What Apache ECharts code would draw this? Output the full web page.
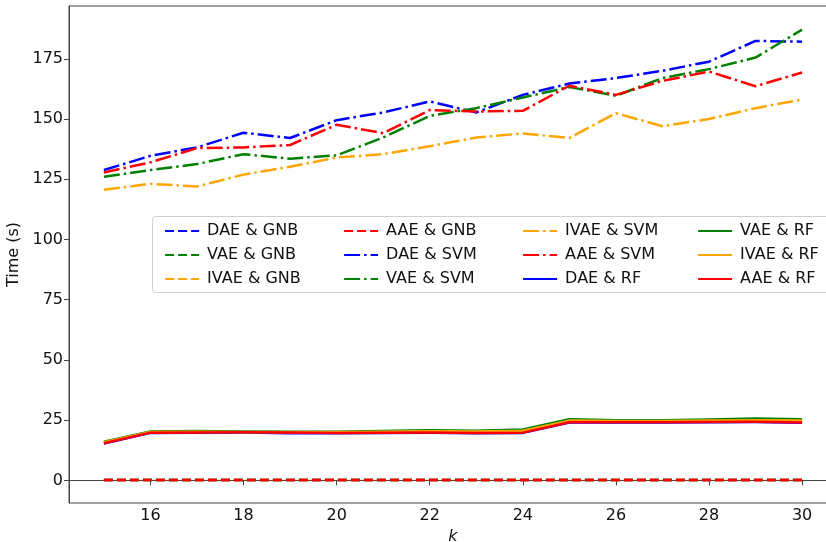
<!DOCTYPE html>
<html>
<head>
<meta charset="utf-8">
<script src="https://cdn.jsdelivr.net/npm/echarts@6/dist/echarts.min.js"></script>
<style>
html,body{margin:0;padding:0;background:#fff;}
#chart{width:826px;height:542px;}
</style>
</head>
<body>
<div id="chart"></div>
<script>
// ---- data ----
var kValues = [15,16,17,18,19,20,21,22,23,24,25,26,27,28,29,30];
var xTicks = [16,18,20,22,24,26,28,30];
var yTicks = [0,25,50,75,100,125,150,175];

var daeGnb  = [0.1,0.1,0.1,0.1,0.1,0.1,0.1,0.1,0.1,0.1,0.1,0.1,0.1,0.1,0.1,0.1];
var vaeGnb  = [0.1,0.1,0.1,0.1,0.1,0.1,0.1,0.1,0.1,0.1,0.1,0.1,0.1,0.1,0.1,0.1];
var ivaeGnb = [0.1,0.1,0.1,0.1,0.1,0.1,0.1,0.1,0.1,0.1,0.1,0.1,0.1,0.1,0.1,0.1];
var aaeGnb  = [0.1,0.1,0.1,0.1,0.1,0.1,0.1,0.1,0.1,0.1,0.1,0.1,0.1,0.1,0.1,0.1];

var daeSvm  = [128.8,134.7,138.2,144.3,142.1,149.5,152.7,157.3,152.7,160.0,164.7,167.0,170.0,173.8,182.4,182.1];
var vaeSvm  = [126.0,128.8,131.3,135.4,133.5,134.9,142.3,151.3,154.5,158.9,163.3,159.6,167.0,170.7,175.5,187.1];
var ivaeSvm = [120.6,123.1,122.0,126.9,130.2,134.0,135.4,138.7,142.3,144.0,142.1,152.4,147.0,150.0,154.5,158.1];
var aaeSvm  = [127.8,132.0,137.9,138.2,139.2,147.6,144.1,153.7,153.1,153.4,163.8,160.0,165.8,169.7,163.6,169.3];

var daeRf   = [15.3,19.7,19.8,19.9,19.6,19.6,19.7,19.8,19.6,19.7,24.0,24.0,24.0,24.1,24.2,23.9];
var vaeRf   = [16.0,20.3,20.5,20.3,20.2,20.2,20.5,20.8,20.6,21.1,25.4,25.0,25.0,25.3,25.7,25.4];
var ivaeRf  = [15.8,20.1,20.2,20.1,20.0,20.0,20.2,20.4,20.3,20.6,24.8,24.6,24.6,24.8,25.0,24.8];
var aaeRf   = [15.4,19.8,19.9,20.0,19.9,19.7,19.8,19.9,19.7,19.8,24.1,24.1,24.1,24.2,24.3,24.0];

var BLUE = '#0000ff', GREEN = '#008000', ORANGE = '#ffa500', RED = '#ff0000';
var LW = 2.5;
var DASH = [9, 4];
var DASHDOT = [16, 4, 2.5, 4];
var FONT = 'DejaVu Sans';

function pairs(vals) {
  return kValues.map(function (k, i) { return [k, vals[i]]; });
}
function mk(name, vals, color, type) {
  return {
    name: name, type: 'line', data: pairs(vals), symbol: 'none',
    animation: false,
    lineStyle: { color: color, width: LW, type: type, cap: 'butt', join: 'round' },
    itemStyle: { color: color }
  };
}

var series = [
  mk('DAE & GNB', daeGnb, BLUE, DASH),
  mk('VAE & GNB', vaeGnb, GREEN, DASH),
  mk('IVAE & GNB', ivaeGnb, ORANGE, DASH),
  mk('AAE & GNB', aaeGnb, RED, DASH),
  mk('DAE & SVM', daeSvm, BLUE, DASHDOT),
  mk('VAE & SVM', vaeSvm, GREEN, DASHDOT),
  mk('IVAE & SVM', ivaeSvm, ORANGE, DASHDOT),
  mk('AAE & SVM', aaeSvm, RED, DASHDOT),
  mk('DAE & RF', daeRf, BLUE, 'solid'),
  mk('VAE & RF', vaeRf, GREEN, 'solid'),
  mk('IVAE & RF', ivaeRf, ORANGE, 'solid'),
  mk('AAE & RF', aaeRf, RED, 'solid')
];

function legendCol(left, names) {
  return {
    orient: 'vertical', left: left, top: 218,
    data: names, itemWidth: 34, itemHeight: 14, itemGap: 8,
    selectedMode: false, z: 10,
    itemStyle: { opacity: 0 },
    lineStyle: { width: 2.2 },
    textStyle: { fontFamily: FONT, fontSize: 16, color: '#111', padding: [0, 0, 0, 3], lineHeight: 14 }
  };
}

var chart = echarts.init(document.getElementById('chart'), null, { renderer: 'canvas' });
chart.setOption({
  backgroundColor: '#ffffff',
  animation: false,
  grid: {
    left: 69, top: 6, width: 768, height: 497,
    outerBoundsMode: 'none', containLabel: false,
    show: true, borderColor: '#444', borderWidth: 1, backgroundColor: 'transparent'
  },
  legend: [
    legendCol(159, ['DAE & GNB', 'VAE & GNB', 'IVAE & GNB']),
    legendCol(338, ['AAE & GNB', 'DAE & SVM', 'VAE & SVM']),
    legendCol(517, ['IVAE & SVM', 'AAE & SVM', 'DAE & RF']),
    legendCol(692, ['VAE & RF', 'IVAE & RF', 'AAE & RF'])
  ],
  graphic: [{
    type: 'rect', z: 5,
    shape: { x: 152.5, y: 216.5, width: 700, height: 76, r: 3 },
    style: { fill: 'rgba(255,255,255,0.85)', stroke: '#d0d0d0', lineWidth: 1 }
  }],
  xAxis: {
    type: 'value', min: 14.25, max: 30.75,
    name: 'k', nameLocation: 'middle', nameGap: 20,
    nameTextStyle: { fontFamily: FONT, fontSize: 16, fontStyle: 'italic', color: '#111' },
    axisLine: { show: true, lineStyle: { color: '#444', width: 1 } },
    axisTick: { show: true, length: 5, customValues: xTicks, lineStyle: { color: '#444' } },
    axisLabel: { customValues: xTicks, margin: 5, fontFamily: FONT, fontSize: 16, color: '#111' },
    splitLine: { show: false }
  },
  yAxis: {
    type: 'value', min: -9.4, max: 196.9,
    name: 'Time (s)', nameLocation: 'middle', nameGap: 39,
    nameTextStyle: { fontFamily: FONT, fontSize: 16, color: '#111' },
    axisLine: { show: true, lineStyle: { color: '#444', width: 1 } },
    axisTick: { show: true, length: 5, customValues: yTicks, lineStyle: { color: '#444' } },
    axisLabel: { customValues: yTicks, margin: 6, fontFamily: FONT, fontSize: 16, color: '#111' },
    splitLine: { show: false }
  },
  series: series
});
</script>
</body>
</html>
